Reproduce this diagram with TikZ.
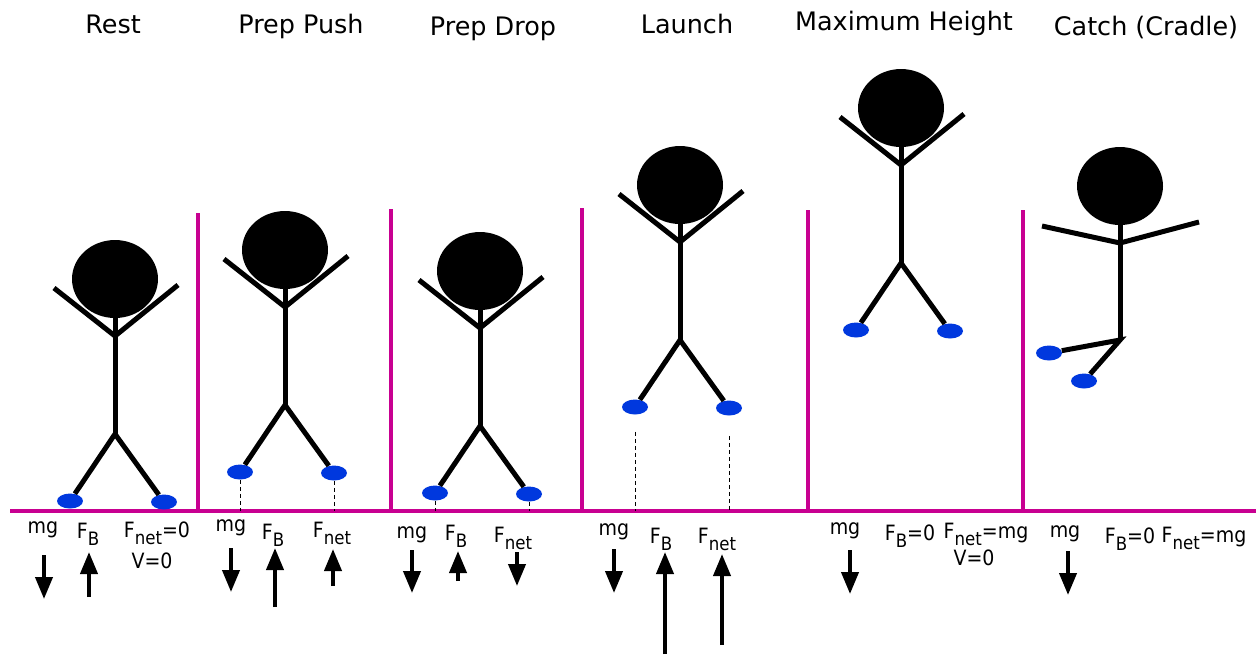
\documentclass[tikz,border=0pt]{standalone}
\usepackage{fontspec}
\setmainfont{DejaVu Sans}
\newfontfamily\lblfont[FakeStretch=0.9]{DejaVu Sans}
\usepackage{tikz}
\usetikzlibrary{arrows.meta,shapes.geometric}

\definecolor{wallmagenta}{RGB}{200,0,145}
\definecolor{footblue}{RGB}{0,56,222}

% lowered index for the force names
\newcommand{\lowsub}[1]{\raisebox{-0.15cm}{\fontsize{10.5}{11}\selectfont #1}}

\begin{document}
\begin{tikzpicture}[
    x=0.02cm, y=-0.02cm,
    head/.style={ellipse, fill=black, minimum width=1.72cm, minimum height=1.56cm, inner sep=0pt},
    foot/.style={ellipse, fill=footblue, minimum width=0.52cm, minimum height=0.3cm, inner sep=0pt},
    limb/.style={line width=0.1cm},
    wall/.style={draw=wallmagenta, line width=0.08cm},
    drop/.style={dash pattern=on 0.08cm off 0.06cm, line width=0.5pt},
    force/.style={-{Triangle[length=0.44cm, width=0.34cm]}, line width=0.08cm},
    title/.style={font=\fontsize{14.5}{17}\selectfont, anchor=base},
    lbl/.style={font=\lblfont\fontsize{12}{14}\selectfont, anchor=base, inner sep=0pt}
]
\useasboundingbox (0,0) rectangle (1256,654);

% phase titles
\node[title] (rest)   at (113,33)  {Rest};
\node[title] (push)   at (301,33)  {Prep Push};
\node[title] (drop)   at (493,35)  {Prep Drop};
\node[title] (launch) at (687,33)  {Launch};
\node[title] (apex)   at (904,30)  {Maximum Height};
\node[title] (catch)  at (1146,35) {Catch (Cradle)};

% floor and dividers
\coordinate (ground) at (0,511);
\draw[wall] (10,511) -- (1256,511);
\foreach \x/\top in {198/213, 391/209, 582/208, 808/210, 1023/210}
  \draw[wall] (\x,\top) -- (\x,511);

% standing figures, all the same shape
\foreach \i/\hx/\hy in {1/115/279, 2/285/250, 3/480/271, 4/680/185, 5/901/108} {
  \node[head] (head\i) at (\hx,\hy) {};
  \coordinate (neck\i) at (\hx,\hy+57);
  \coordinate (hip\i) at (\hx,\hy+155);
  \node[foot] (footl\i) at (\hx-45,\hy+222) {};
  \node[foot] (footr\i) at (\hx+49,\hy+223) {};
  \draw[limb] (\hx-61,\hy+9) -- (neck\i) -- (\hx+63,\hy+6);
  \draw[limb] (head\i.south) -- (hip\i);
  \draw[limb] (footl\i) -- (hip\i) -- (footr\i);
}

% figure landing in the cradle
\node[head] (head6) at (1120,186) {};
\coordinate (neck6) at (1120,243);
\coordinate (hip6) at (1120,340);
\node[foot] (footl6) at (1049,353) {};
\node[foot] (footr6) at (1084,381) {};
\draw[limb] (1042,226) -- (neck6) -- (1199,222);
\draw[limb] (head6.south) -- (hip6);
\draw[limb] (footl6) -- (hip6) -- (footr6);

% distance of the feet above the floor
\foreach \f in {footl2, footr2, footl3, footr3}
  \draw[drop] (\f.south) -- (\f.south |- ground);
\draw[drop, shorten <=0.34cm] (footl4.south) -- (footl4.south |- ground);
\draw[drop, shorten <=0.4cm] (footr4.south) -- (footr4.south |- ground);

% force labels
\node[lbl] (mg1)  at (43,533)  {mg};
\node[lbl] (fb1)  at (88,538)  {F\lowsub{B}};
\node[lbl] (fn1)  at (157,537) {F\lowsub{net}=0};
\node[lbl] (v1)   at (152,568) {V=0};
\node[lbl] (mg2)  at (231,531) {mg};
\node[lbl] (fb2)  at (273,539) {F\lowsub{B}};
\node[lbl] (fn2)  at (332,537) {F\lowsub{net}};
\node[lbl] (mg3)  at (412,538) {mg};
\node[lbl] (fb3)  at (456,540) {F\lowsub{B}};
\node[lbl] (fn3)  at (513,542) {F\lowsub{net}};
\node[lbl] (mg4)  at (614,535) {mg};
\node[lbl] (fb4)  at (661,543) {F\lowsub{B}};
\node[lbl] (fn4)  at (717,543) {F\lowsub{net}};
\node[lbl] (mg5)  at (845,534) {mg};
\node[lbl] (fb5)  at (910,540) {F\lowsub{B}=0};
\node[lbl] (fn5)  at (986,538) {F\lowsub{net}=mg};
\node[lbl] (v5)   at (974,565) {V=0};
\node[lbl] (mg6)  at (1065,537) {mg};
\node[lbl] (fb6)  at (1130,543) {F\lowsub{B}=0};
\node[lbl] (fn6)  at (1204,542) {F\lowsub{net}=mg};

% force arrows
\foreach \x/\a/\b in {44/555/599, 89/597/552,
                      231/548/592, 275/607/548, 333/586/549,
                      412/550/593, 458/581/551, 517/552/586,
                      614/549/593, 665/654/552, 722/645/554,
                      850/550/594, 1068/551/595}
  \draw[force] (\x,\a) -- (\x,\b);
\end{tikzpicture}
\end{document}
